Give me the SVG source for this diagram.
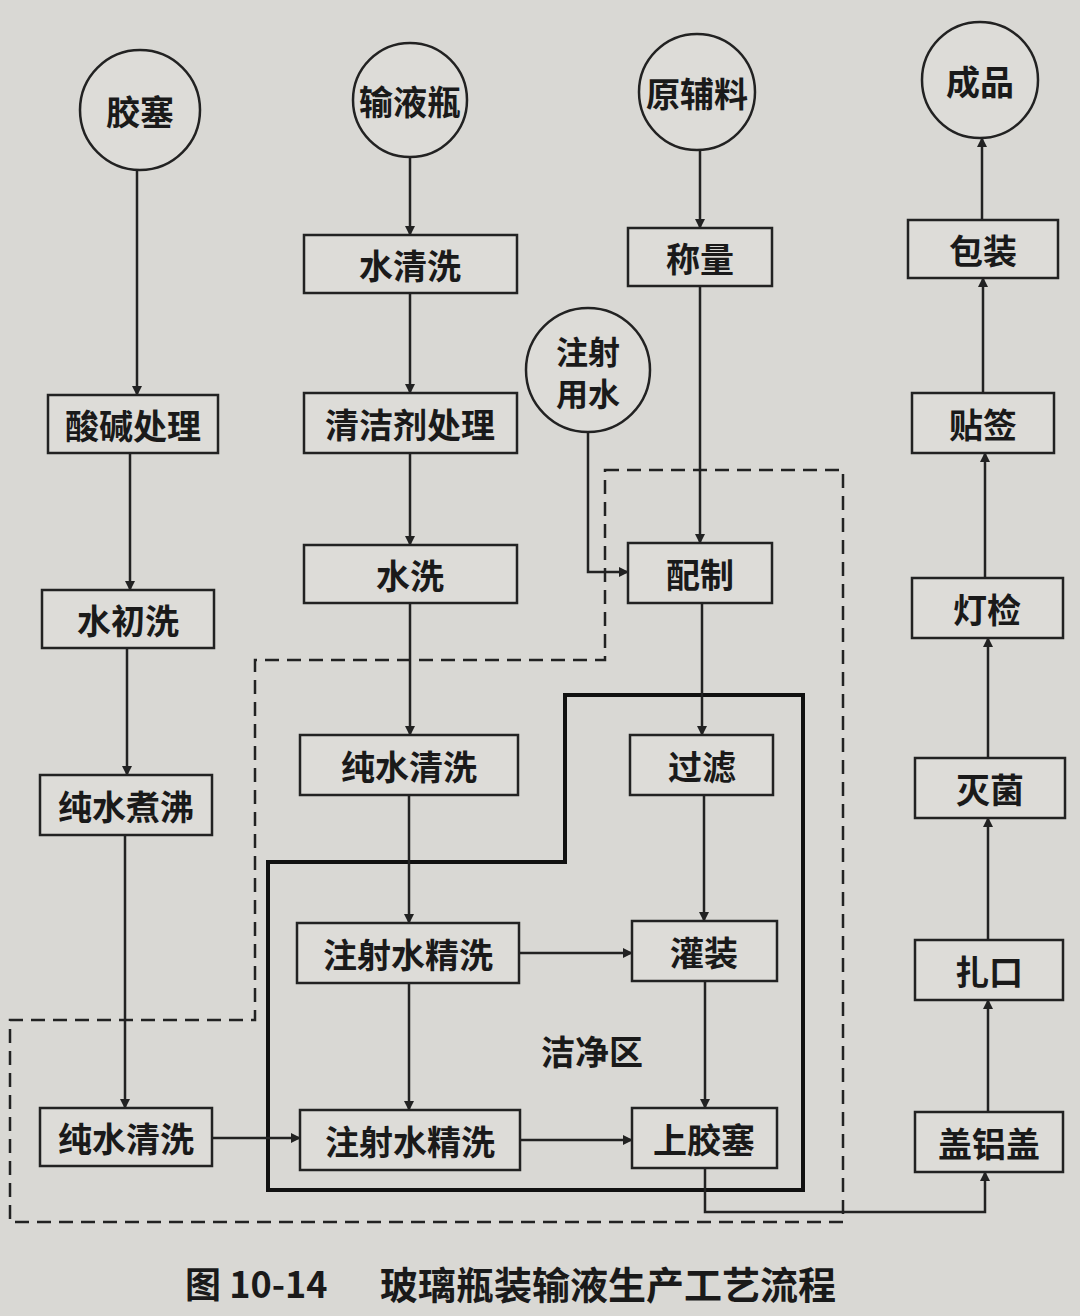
<svg xmlns="http://www.w3.org/2000/svg" width="1080" height="1316" viewBox="0 0 1080 1316">
<defs>
<marker id="ar" markerWidth="10" markerHeight="10" refX="9" refY="5" orient="auto" markerUnits="userSpaceOnUse"><path d="M0,0 L10,5 L0,10 Z" fill="#222"/></marker>
<style>
.b{fill:#dddcd8;stroke:#222;stroke-width:2.5}
.c{fill:#dddcd8;stroke:#222;stroke-width:2.5}
.t{font-family:"Noto Sans CJK SC","Noto Sans CJK JP",sans-serif;font-size:34px;font-weight:bold;fill:#1a1a1a;text-anchor:middle;dominant-baseline:central}
.l{fill:none;stroke:#222;stroke-width:2.5}
</style>
</defs>
<rect width="1080" height="1316" fill="#d9d8d4"/>
<g id="regions">
<path d="M605,470 H843 V1222 H10 V1020 H255 V660 H605 Z" fill="none" stroke="#222" stroke-width="2.5" stroke-dasharray="14,8"/>
<path d="M565,695 H803 V1190 H268 V862 H565 Z" fill="none" stroke="#111" stroke-width="4"/>
<text class="t" x="592" y="1050">洁净区</text>
</g>
<g id="connectors" class="l" marker-end="url(#ar)">
<path d="M137,170 V395"/><path d="M130,453 V590"/><path d="M127,648 V775"/><path d="M125,835 V1108"/>
<path d="M212,1138 H300"/>
<path d="M410,157 V235"/><path d="M410,293 V393"/><path d="M410,453 V545"/><path d="M410,603 V735"/><path d="M409,795 V923"/><path d="M409,983 V1110"/>
<path d="M519,953 H632"/><path d="M520,1140 H632"/>
<path d="M700,150 V228"/><path d="M700,286 V543"/><path d="M702,603 V735"/><path d="M704,795 V921"/><path d="M705,981 V1108"/>
<path d="M588,432 V572 H628"/>
<path d="M705,1168 V1212 H985 V1172"/>
<path d="M988,1112 V1000"/><path d="M988,940 V818"/><path d="M988,758 V638"/><path d="M985,578 V453"/><path d="M983,393 V278"/><path d="M982,220 V138"/>
</g>
<g id="n1"><circle class="c" cx="140" cy="110" r="60"/><text class="t" x="140" y="110">胶塞</text></g>
<g id="n2"><circle class="c" cx="410" cy="100" r="57"/><text class="t" x="410" y="100">输液瓶</text></g>
<g id="n3"><circle class="c" cx="697" cy="92" r="58"/><text class="t" x="697" y="92">原辅料</text></g>
<g id="n4"><circle class="c" cx="980" cy="80" r="58"/><text class="t" x="980" y="80">成品</text></g>
<g id="n5"><circle class="c" cx="588" cy="370" r="62"/><text class="t" x="588" y="350" style="font-size:32px">注射</text><text class="t" x="588" y="392" style="font-size:32px">用水</text></g>
<g id="a1"><rect class="b" x="48" y="395" width="170" height="58"/><text class="t" x="133" y="424">酸碱处理</text></g>
<g id="a2"><rect class="b" x="42" y="590" width="172" height="58"/><text class="t" x="128" y="619">水初洗</text></g>
<g id="a3"><rect class="b" x="40" y="775" width="172" height="60"/><text class="t" x="126" y="805">纯水煮沸</text></g>
<g id="a4"><rect class="b" x="40" y="1108" width="172" height="58"/><text class="t" x="126" y="1137">纯水清洗</text></g>
<g id="b1"><rect class="b" x="304" y="235" width="213" height="58"/><text class="t" x="410" y="264">水清洗</text></g>
<g id="b2"><rect class="b" x="304" y="393" width="213" height="60"/><text class="t" x="410" y="423">清洁剂处理</text></g>
<g id="b3"><rect class="b" x="304" y="545" width="213" height="58"/><text class="t" x="410" y="574">水洗</text></g>
<g id="b4"><rect class="b" x="300" y="735" width="218" height="60"/><text class="t" x="409" y="765">纯水清洗</text></g>
<g id="b5"><rect class="b" x="297" y="923" width="222" height="60"/><text class="t" x="408" y="953">注射水精洗</text></g>
<g id="b6"><rect class="b" x="300" y="1110" width="220" height="60"/><text class="t" x="410" y="1140">注射水精洗</text></g>
<g id="c1"><rect class="b" x="628" y="228" width="144" height="58"/><text class="t" x="700" y="257">称量</text></g>
<g id="c2"><rect class="b" x="628" y="543" width="144" height="60"/><text class="t" x="700" y="573">配制</text></g>
<g id="c3"><rect class="b" x="630" y="735" width="143" height="60"/><text class="t" x="702" y="765">过滤</text></g>
<g id="c4"><rect class="b" x="632" y="921" width="145" height="60"/><text class="t" x="704" y="951">灌装</text></g>
<g id="c5"><rect class="b" x="632" y="1108" width="145" height="60"/><text class="t" x="704" y="1138">上胶塞</text></g>
<g id="d1"><rect class="b" x="908" y="220" width="150" height="58"/><text class="t" x="983" y="249">包装</text></g>
<g id="d2"><rect class="b" x="912" y="393" width="142" height="60"/><text class="t" x="983" y="423">贴签</text></g>
<g id="d3"><rect class="b" x="912" y="578" width="151" height="60"/><text class="t" x="987" y="608">灯检</text></g>
<g id="d4"><rect class="b" x="915" y="758" width="150" height="60"/><text class="t" x="990" y="788">灭菌</text></g>
<g id="d5"><rect class="b" x="915" y="940" width="148" height="60"/><text class="t" x="989" y="970">扎口</text></g>
<g id="d6"><rect class="b" x="915" y="1112" width="148" height="60"/><text class="t" x="989" y="1142">盖铝盖</text></g>
<text x="185" y="1282" font-family="'Noto Sans CJK SC',sans-serif" font-size="36" font-weight="bold" fill="#1a1a1a" dominant-baseline="central">图 10-14</text>
<text x="380" y="1282" font-family="'Noto Sans CJK SC',sans-serif" font-size="38" font-weight="bold" fill="#1a1a1a" dominant-baseline="central">玻璃瓶装输液生产工艺流程</text>
</svg>
